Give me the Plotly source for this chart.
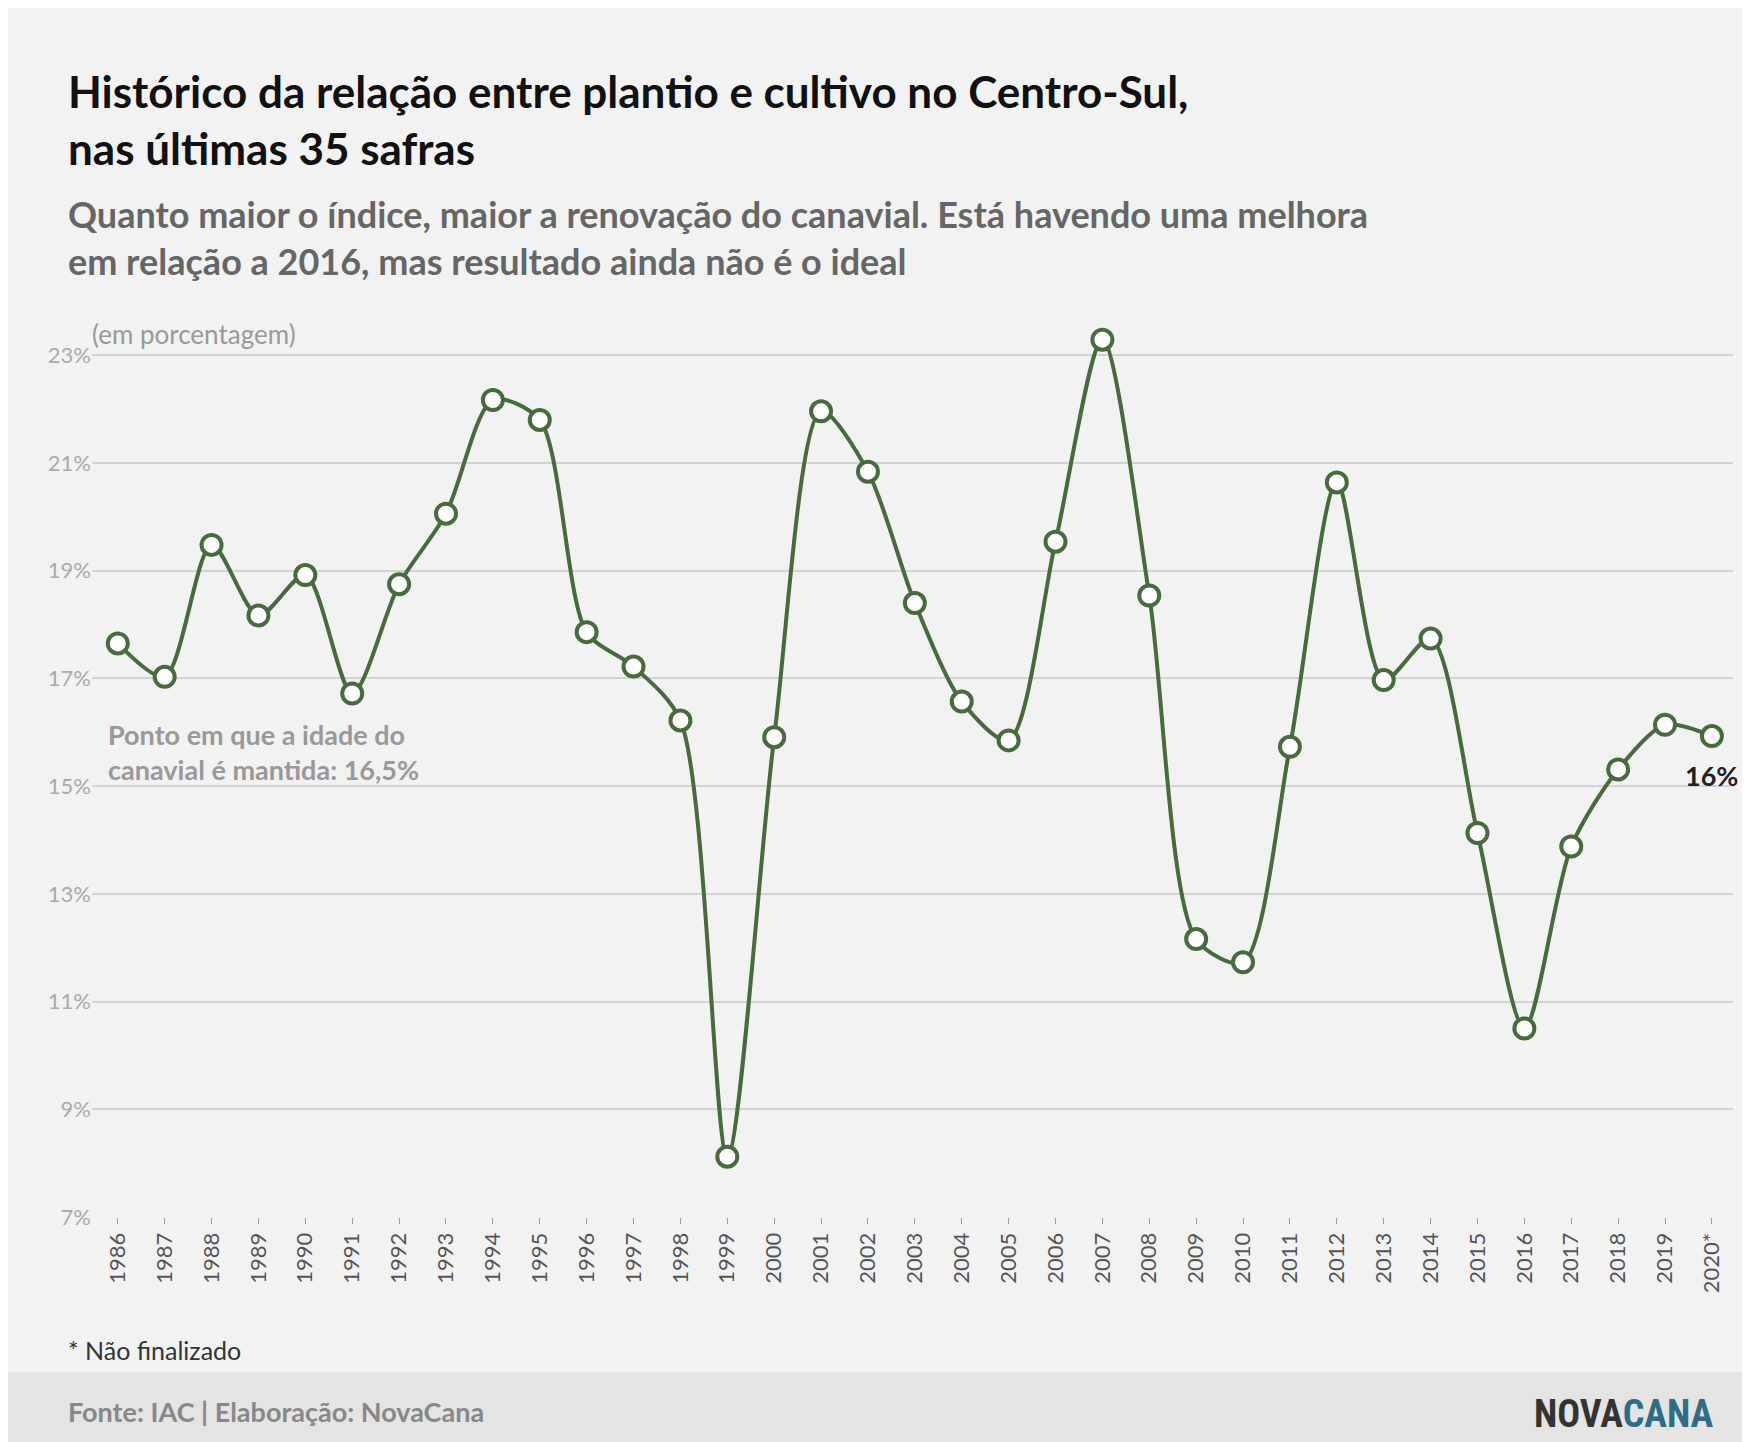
import plotly.graph_objects as go

anos = [str(a) for a in range(1986, 2020)] + ["2020*"]
indice = [17.65, 17.03, 19.48, 18.17, 18.92, 16.72, 18.75, 20.06, 22.17, 21.8,
          17.86, 17.22, 16.22, 8.12, 15.91, 21.96, 20.84, 18.4, 16.57, 15.85,
          19.54, 23.29, 18.54, 12.16, 11.73, 15.73, 20.64, 16.97, 17.74, 14.13,
          10.5, 13.88, 15.31, 16.14, 15.93]
yticks = [7, 9, 11, 13, 15, 17, 19, 21, 23]
ytexto = [f"{v}%" for v in yticks]
ponto_ideal = 16.5

verde = "#476b3e"
fonte = "Lato, Roboto, sans-serif"

# margens do gráfico em pixels
L, R, T, B = 84, 25, 315, 233
W, H = 1750, 1442
pw, ph = W - L - R, H - T - B


def px(x):
    return (x - L) / pw


def py(y):
    return (H - B - y) / ph


fig = go.Figure()
fig.add_trace(go.Scatter(
    x=list(range(len(anos))), y=indice, mode="lines+markers",
    line=dict(color=verde, width=4, shape="spline", smoothing=0.8),
    marker=dict(size=20, color="white", line=dict(color=verde, width=4)),
    hoverinfo="y", showlegend=False
))
fig.add_hline(y=ponto_ideal, line=dict(color="#aaaaaa", width=2, dash="dash"))

fig.update_layout(
    width=W, height=H,
    paper_bgcolor="#f2f2f2", plot_bgcolor="#f2f2f2",
    margin=dict(l=L, r=R, t=T, b=B),
    font=dict(family=fonte),
    xaxis=dict(tickvals=list(range(len(anos))), ticktext=anos, tickangle=-90,
               range=[-0.55, 34.45], showgrid=False, zeroline=False,
               tickfont=dict(size=22, color="#555555"),
               ticks="outside", ticklen=6, tickcolor="#999999"),
    yaxis=dict(range=[7, 23.6], tickvals=yticks, ticktext=ytexto,
               showgrid=True, gridcolor="#d3d3d3", gridwidth=1.5, zeroline=False,
               tickfont=dict(size=22, color="#aaaaaa")),
    shapes=[dict(type="rect", xref="paper", yref="paper", x0=px(0), x1=px(W),
                 y0=py(H), y1=py(1364), fillcolor="#e4e4e4", line_width=0, layer="below")],
)

anot = [
    (58, 55, "<b>Histórico da relação entre plantio e cultivo no Centro-Sul,<br>nas últimas 35 safras</b>", 44, "#111111"),
    (58, 182, "<b>Quanto maior o índice, maior a renovação do canavial. Está havendo uma melhora<br>em relação a 2016, mas resultado ainda não é o ideal</b>", 36, "#666666"),
    (82, 308, "(em porcentagem)", 26, "#999999"),
    (58, 1325, "* Não finalizado", 25, "#333333"),
    (58, 1385, "<b>Fonte: IAC | Elaboração: NovaCana</b>", 27, "#888888"),
]
for x, y, texto, tam, cor in anot:
    fig.add_annotation(xref="paper", yref="paper", x=px(x), y=py(y), text=texto,
                       showarrow=False, xanchor="left", yanchor="top", align="left",
                       font=dict(size=tam, color=cor, family=fonte))

fig.add_annotation(xref="x", yref="y", x=-0.25, y=16.3, text="<b>Ponto em que a idade do<br>canavial é mantida: 16,5%</b>",
                   showarrow=False, xanchor="left", yanchor="top", align="left",
                   font=dict(size=27, color="#999999", family=fonte))
fig.add_annotation(xref="x", yref="y", x=34, y=15.2, text="<b>16%</b>", showarrow=False,
                   xanchor="center", yanchor="middle", font=dict(size=27, color="#222222", family=fonte))
fig.add_annotation(xref="paper", yref="paper", x=px(1708), y=py(1382),
                   text="<b><span style='color:#333333'>NOVA</span><span style='color:#2f6d86'>CANA</span></b>",
                   showarrow=False, xanchor="right", yanchor="top",
                   font=dict(size=38, family="'Roboto Condensed', 'Liberation Sans Narrow', Roboto, sans-serif"))

fig.write_html("out.html")
